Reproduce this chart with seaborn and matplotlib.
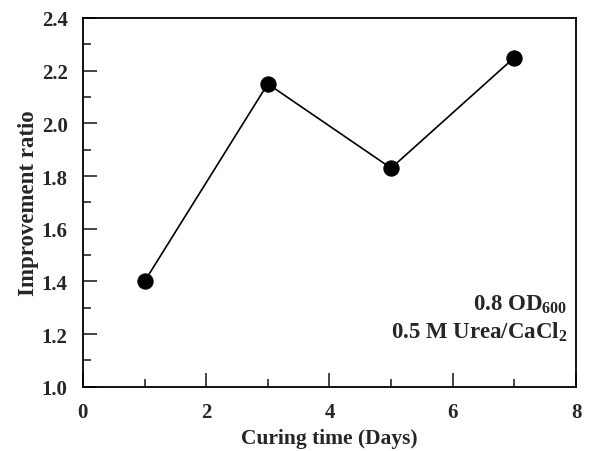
import matplotlib
matplotlib.use('Agg')
import matplotlib.pyplot as plt
import seaborn as sns
import pandas as pd
from matplotlib.ticker import MultipleLocator

# Data
days = [1, 3, 5, 7]
ratio = [1.40, 2.15, 1.83, 2.25]

df = pd.DataFrame({'Curing time (Days)': days, 'Improvement ratio': ratio})

sns.set_style('ticks')
plt.rcParams['font.family'] = ['Liberation Serif', 'DejaVu Serif']
plt.rcParams['font.weight'] = 'bold'
plt.rcParams['mathtext.default'] = 'regular'

fig = plt.figure(figsize=(5.92, 4.52), dpi=100)
ax = fig.add_axes([0.140, 0.142, 0.833, 0.816])

sns.lineplot(data=df, x='Curing time (Days)', y='Improvement ratio', ax=ax,
             color='black', linewidth=1.2, marker='o', markersize=11,
             markeredgecolor='black', markerfacecolor='black')

ax.set_xlim(0, 8)
ax.set_ylim(1.0, 2.4)
ax.xaxis.set_major_locator(MultipleLocator(2))
ax.xaxis.set_minor_locator(MultipleLocator(1))
ax.yaxis.set_major_locator(MultipleLocator(0.2))
ax.yaxis.set_minor_locator(MultipleLocator(0.1))
ax.yaxis.set_major_formatter(plt.FormatStrFormatter('%.1f'))

ax.tick_params(which='major', direction='in', length=10, width=1.2,
               labelsize=15, top=False, right=False, pad=11)
ax.tick_params(which='minor', direction='in', length=6, width=1.2,
               top=False, right=False)
for lbl in ax.get_xticklabels() + ax.get_yticklabels():
    lbl.set_fontweight('bold')

for s in ax.spines.values():
    s.set_linewidth(1.3)
    s.set_color('black')

ax.set_xlabel('Curing time (Days)', fontsize=15.5, fontweight='bold', labelpad=4)
ax.set_ylabel('Improvement ratio', fontsize=16.5, fontweight='bold', labelpad=2)

ax.text(7.86, 1.315, r'0.8 OD$_{600}$', ha='right', va='center',
        fontsize=16.5, fontweight='bold')
ax.text(7.86, 1.209, r'0.5 M Urea/CaCl$_{2}$', ha='right', va='center',
        fontsize=16.5, fontweight='bold')

fig.savefig('out.png', dpi=100)
